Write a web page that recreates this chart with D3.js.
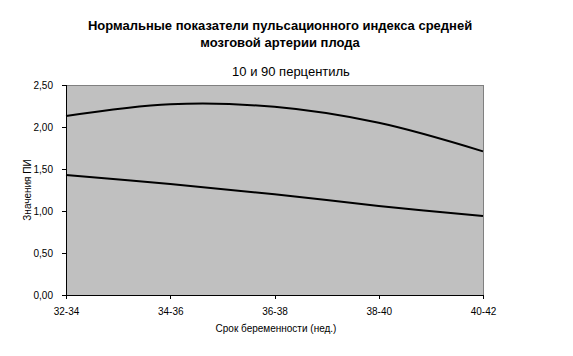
<!DOCTYPE html>
<html><head><meta charset="utf-8">
<script src="https://cdn.jsdelivr.net/npm/d3@7"></script>
<style>body{margin:0;background:#fff}svg{display:block;font-family:"Liberation Sans",Arial,sans-serif}</style>
</head><body><svg id="c" width="573" height="356"></svg>
<script>
const categories = ["32-34","34-36","36-38","38-40","40-42"];
const p90 = [2.13, 2.27, 2.24, 2.05, 1.71];
const p10 = [1.43, 1.32, 1.20, 1.06, 0.94];
const yTicks = [0, 0.5, 1.0, 1.5, 2.0, 2.5];
const titleLines = ["Нормальные показатели пульсационного индекса средней","мозговой артерии плода"];
const subtitle = "10 и 90 перцентиль";
const xTitle = "Срок беременности (нед.)";
const yTitle = "Значения ПИ";

const svg = d3.select("#c");
const L=66, R=483, T=85, B=295;
const x = d3.scalePoint().domain(categories).range([L,R]);
const y = d3.scaleLinear().domain([0,2.5]).range([B,T]);
const fmt = d => d.toFixed(2).replace(".", ",");

svg.append("rect").attr("x",L).attr("y",T).attr("width",R-L).attr("height",B-T)
  .attr("fill","#c0c0c0").attr("stroke","#808080").attr("stroke-width",1).attr("shape-rendering","crispEdges");

const gy = svg.append("g").attr("transform",`translate(${L},0)`)
  .call(d3.axisLeft(y).tickValues(yTicks).tickFormat(fmt).tickSize(4).tickPadding(9));
const gx = svg.append("g").attr("transform",`translate(0,${B})`)
  .call(d3.axisBottom(x).tickSize(4).tickPadding(9));
[gy,gx].forEach(g=>{
  g.selectAll("path,line").attr("stroke","#000").attr("shape-rendering","crispEdges");
  g.selectAll("text").attr("font-size",10).attr("fill","#000").attr("font-family","Liberation Sans, Arial");
});

const line = d3.line().x((d,i)=>x(categories[i])).y(d=>y(d)).curve(d3.curveCatmullRom.alpha(0.5));
[p90,p10].forEach(s=>{
  svg.append("path").attr("d",line(s)).attr("fill","none").attr("stroke","#000").attr("stroke-width",2);
});

svg.append("text").attr("font-weight","bold").attr("font-size",13).attr("text-anchor","middle")
  .selectAll("tspan").data(titleLines).join("tspan").attr("x",280).attr("y",(d,i)=>30+i*17).text(d=>d);
svg.append("text").attr("x",291).attr("y",76).attr("font-size",13).attr("text-anchor","middle").text(subtitle);
svg.append("text").attr("x",276).attr("y",332).attr("font-size",10).attr("text-anchor","middle").text(xTitle);
svg.append("text").attr("transform","translate(31,190) rotate(-90)").attr("font-size",10).attr("text-anchor","middle").text(yTitle);
</script></body></html>
